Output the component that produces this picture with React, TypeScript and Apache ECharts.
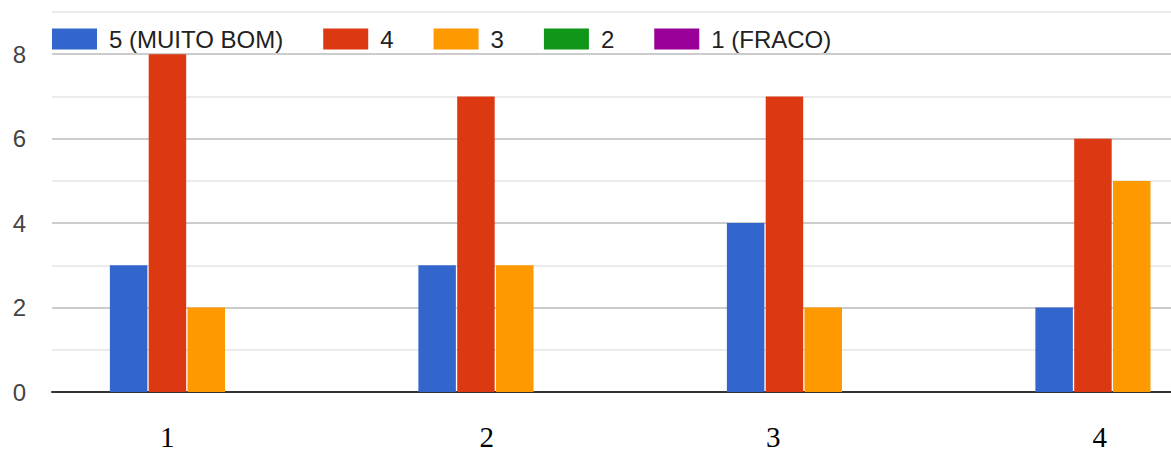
import React, { useEffect, useRef } from "react";
import * as echarts from "echarts";

const categories = ["1", "2", "3", "4"];
const seriesNames = ["5 (MUITO BOM)", "4", "3", "2", "1 (FRACO)"];
const seriesColors = ["#3366cc", "#dc3912", "#ff9900", "#109618", "#990099"];
const values5 = [3, 3, 4, 2];
const values4 = [8, 7, 7, 6];
const values3 = [2, 3, 2, 5];
const values2 = [0, 0, 0, 0];
const values1 = [0, 0, 0, 0];
const allValues = [values5, values4, values3, values2, values1];
const labelShift = [78, 56, 100, 64];

export default function App() {
  const ref = useRef<HTMLDivElement>(null);
  useEffect(() => {
    if (!ref.current) return;
    const chart = echarts.init(ref.current, null, { renderer: "svg" });
    const rich: Record<string, any> = {};
    labelShift.forEach((p, i) => {
      rich["c" + i] = {
        fontFamily: "Liberation Serif",
        fontSize: 29,
        color: "#000",
        padding: [0, p, 0, 0],
      };
    });
    chart.setOption({
      animation: false,
      backgroundColor: "#fff",
      legend: {
        left: 52,
        top: 27,
        padding: 0,
        itemWidth: 45,
        itemHeight: 21,
        itemGap: 40,
        icon: "rect",
        textStyle: {
          fontFamily: "Liberation Sans",
          fontSize: 24,
          color: "#222",
          padding: [0, 0, 0, 7],
        },
        data: seriesNames,
      },
      grid: { left: 52, right: 0, top: 12, bottom: 62, containLabel: false },
      xAxis: {
        type: "category",
        data: categories,
        axisTick: { show: false },
        axisLine: { lineStyle: { color: "#333", width: 2 } },
        axisLabel: {
          margin: 30,
          formatter: (v: string, i: number) => `{c${i}|${v}}`,
          rich,
        },
      },
      yAxis: {
        type: "value",
        min: 0,
        max: 9,
        interval: 1,
        axisLine: { show: false },
        axisTick: { show: false },
        axisLabel: {
          margin: 26,
          fontFamily: "Liberation Sans",
          fontSize: 24,
          color: "#444",
          formatter: (v: number) => (v % 2 === 0 ? String(v) : ""),
        },
        splitLine: {
          lineStyle: { color: ["#cccccc", "#ebebeb"], width: 2 },
        },
      },
      series: seriesNames.map((name, i) => ({
        name,
        type: "bar",
        data: allValues[i],
        barWidth: 37.5,
        barGap: "3.5%",
        itemStyle: { color: seriesColors[i] },
      })),
    });
    return () => chart.dispose();
  }, []);
  return (
    <div
      ref={ref}
      style={{ position: "fixed", left: 0, top: 0, width: 1286, height: 454 }}
    />
  );
}
